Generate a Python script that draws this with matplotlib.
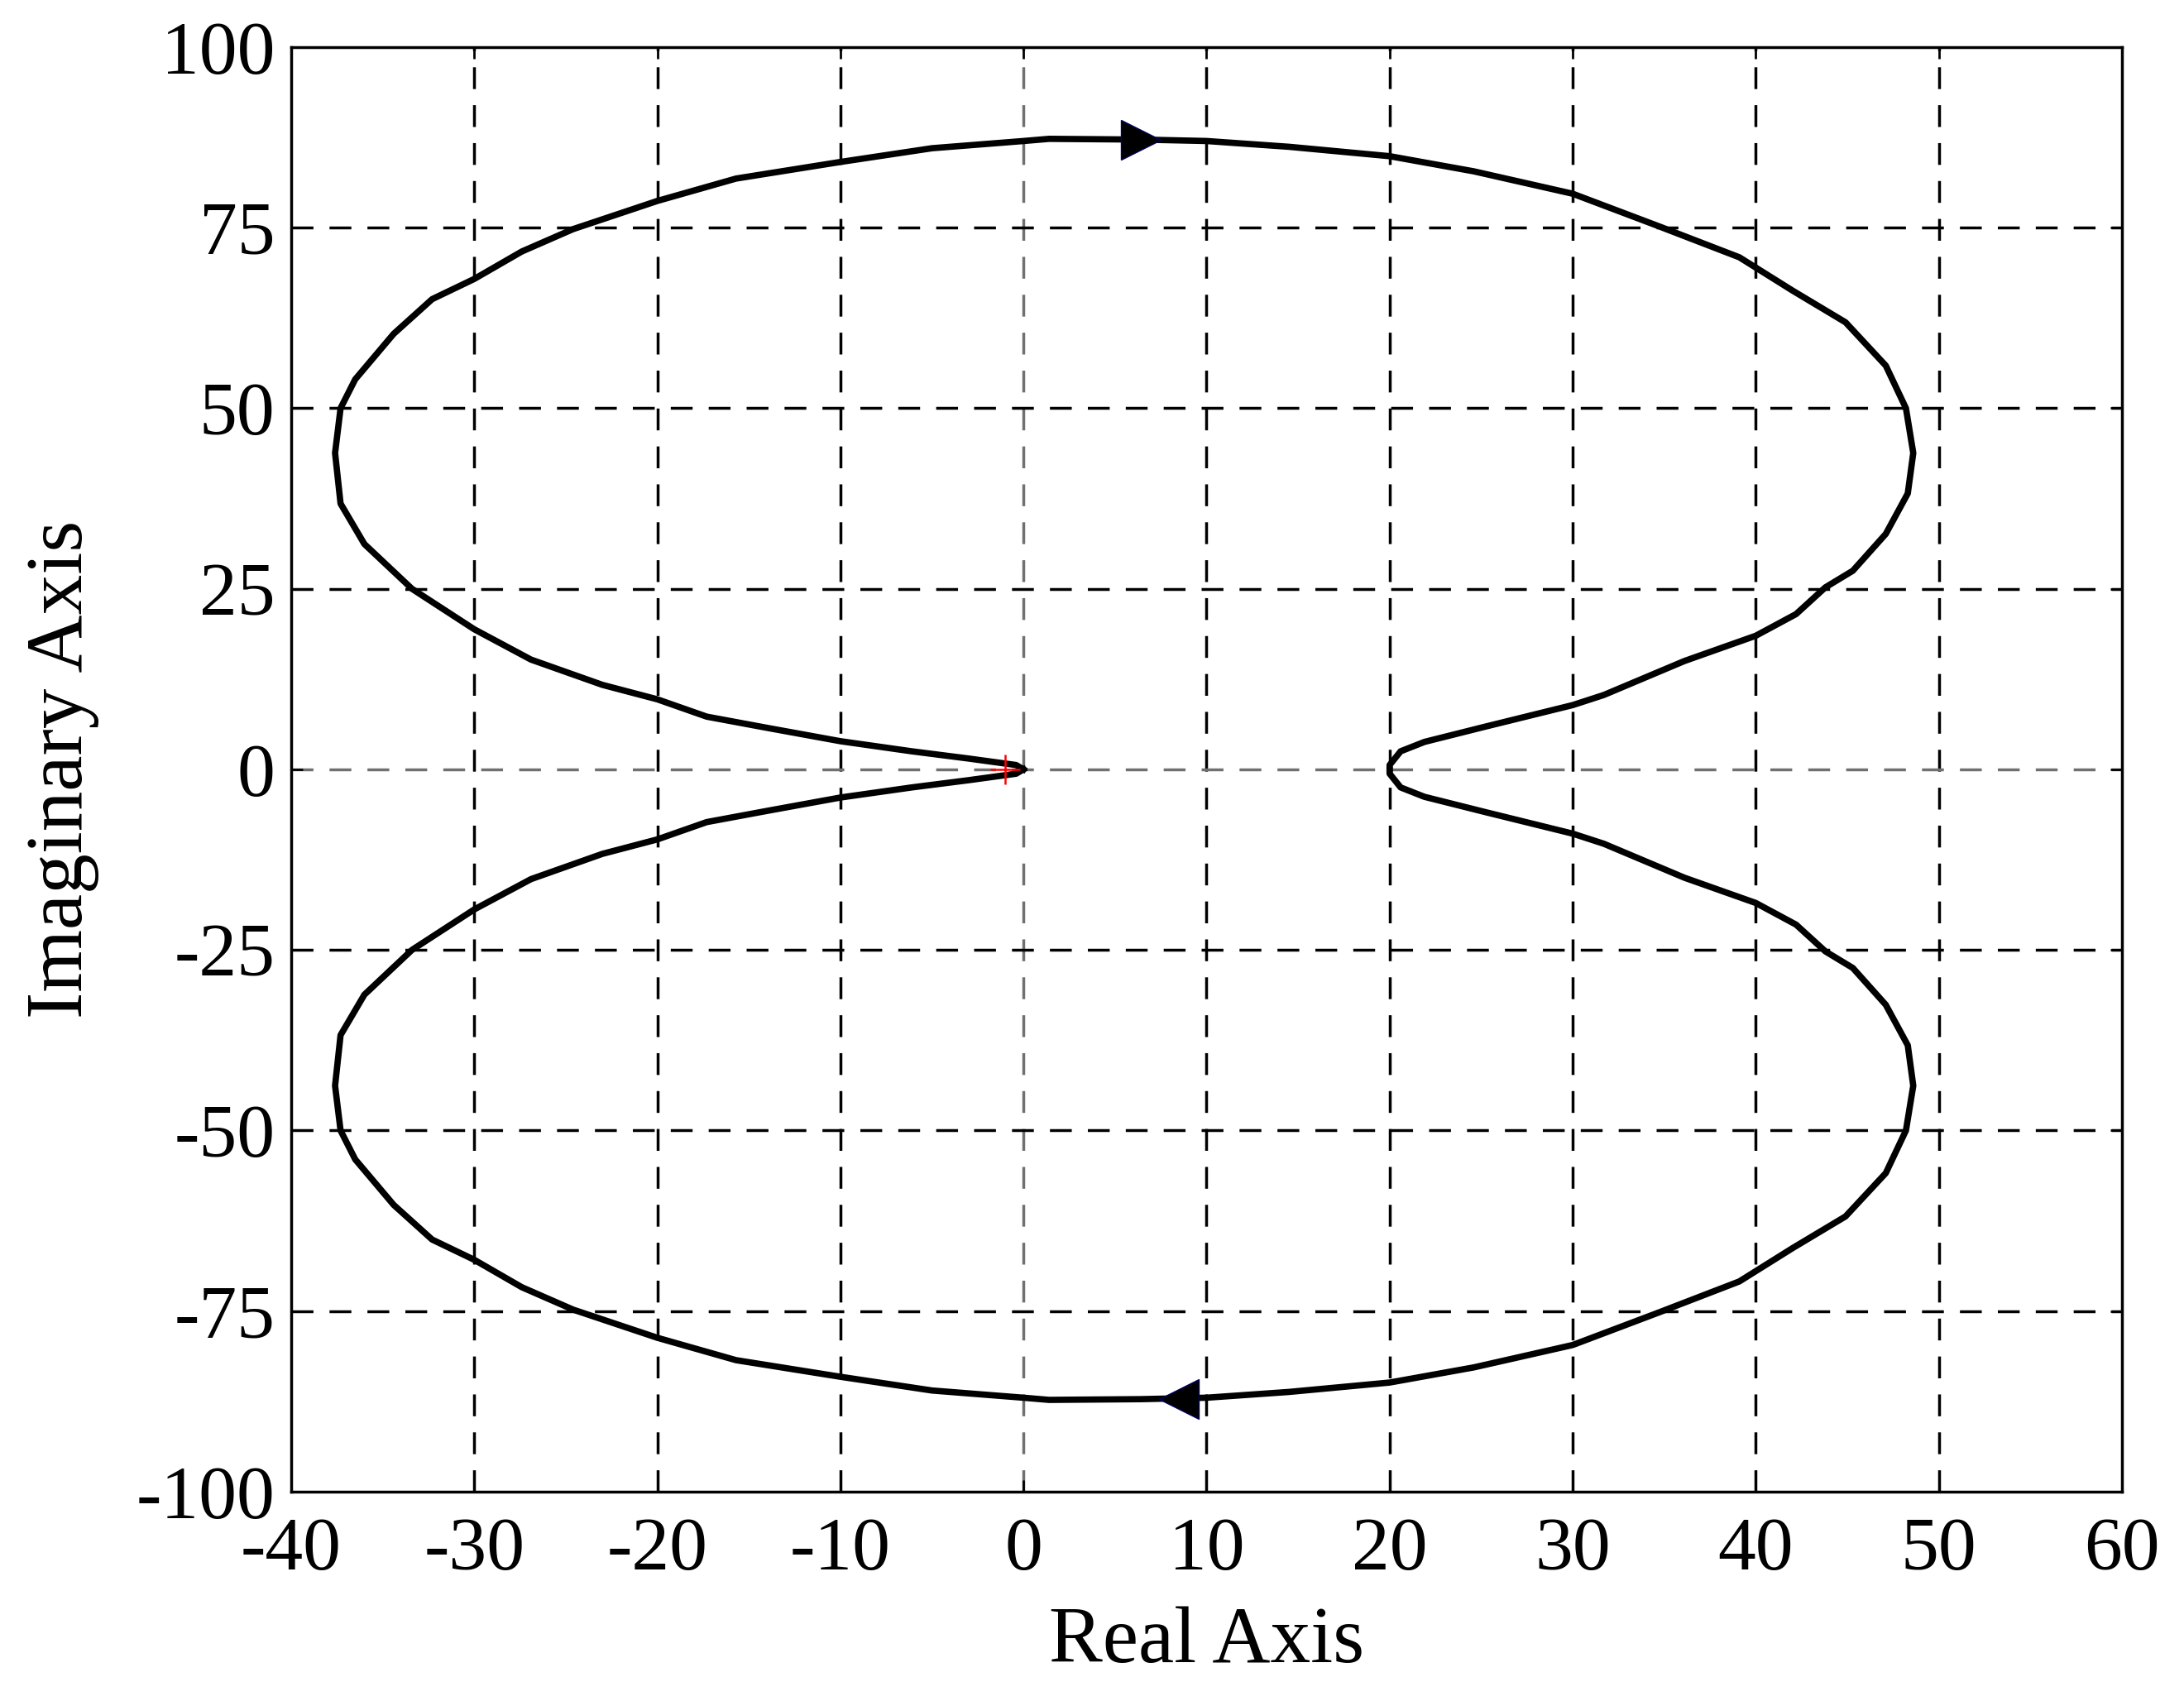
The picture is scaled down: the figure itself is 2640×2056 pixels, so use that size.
import numpy as np
import matplotlib
matplotlib.use("Agg")
import matplotlib.pyplot as plt

# Nyquist curve, upper half (positive frequencies)
re_up = [0, -0.4, -3, -6.1, -10, -13.9, -17.3, -20, -23, -26.9, -30, -33.4, -36,
         -37.3, -37.6, -37.3, -36.5, -34.4, -32.3, -30, -27.4, -24.6, -20, -15.7,
         -10, -5, 0, 1.4, 6.4, 10, 14.5, 20, 24.6, 30, 34.7, 39.1, 42, 44.9, 47.1,
         48.2, 48.6, 48.3, 47.1, 45.3, 43.8, 42.2, 40, 36.1, 31.7, 30, 25.2, 21.9,
         20.6, 20, 20]
im_up = [0, 0.6, 1.5, 2.5, 3.9, 5.7, 7.3, 9.7, 11.7, 15.2, 19.4, 25, 31.2,
         36.8, 43.8, 50, 54, 60.3, 65.1, 67.9, 71.7, 74.8, 78.7, 81.8,
         84.1, 86, 87, 87.3, 87.2, 87, 86.2, 84.9, 82.8, 79.7, 75.2, 70.9, 66.3, 61.9, 55.9,
         50, 43.8, 38.2, 32.6, 27.5, 25.2, 21.5, 18.5, 15, 10.3, 8.9, 5.9, 3.8,
         2.5, 0.6, 0]

# direction arrows (x, y) and the critical point
arrow_top = (6.4, 87.2)
arrow_bottom = (8.5, -87.2)
critical = (-1, 0)

xticks = [-40, -30, -20, -10, 0, 10, 20, 30, 40, 50, 60]
yticks = [-100, -75, -50, -25, 0, 25, 50, 75, 100]

plt.rcParams['font.family'] = ['Liberation Serif', 'DejaVu Serif']
plt.rcParams['axes.unicode_minus'] = False
plt.rcParams['lines.scale_dashes'] = False

fig = plt.figure(figsize=(26.4, 20.56), dpi=100)
ax = fig.add_axes([0.1333, 0.1231, 0.8383, 0.8492])

# grid drawn by hand so the zero lines can be grey
for t in xticks[1:-1]:
    ax.axvline(t, color='#707070' if t == 0 else 'black', lw=2.5,
               dashes=(19, 14), zorder=1)
for t in yticks[1:-1]:
    ax.axhline(t, color='#707070' if t == 0 else 'black', lw=2.5,
               dashes=(19, 14), zorder=1)

re = np.array(re_up)
im = np.array(im_up)
ax.plot(re, im, color='black', lw=5.5, zorder=3)
ax.plot(re, -im, color='black', lw=5.5, zorder=3)

ax.plot(*critical, marker='+', color='red', markersize=26, mew=1.8, zorder=6)
ax.plot(*arrow_top, marker='>', markersize=35, color='black',
        markeredgecolor='#000060', mew=1, zorder=5)
ax.plot(*arrow_bottom, marker='<', markersize=35, color='black',
        markeredgecolor='#000060', mew=1, zorder=5)

ax.set_xlim(-40, 60)
ax.set_ylim(-100, 100)
ax.set_xticks(xticks)
ax.set_yticks(yticks)
ax.tick_params(direction='in', length=10, width=2, top=True, right=True,
               labelsize=66)
ax.tick_params(axis='x', pad=22)
ax.tick_params(axis='y', pad=14)
for s in ax.spines.values():
    s.set_linewidth(2.5)

ax.set_xlabel('Real Axis', fontsize=70, va='center')
ax.xaxis.set_label_coords(0.5, -0.105)
ax.set_ylabel('Imaginary Axis', fontsize=70, va='center')
ax.yaxis.set_label_coords(-0.125, 0.5)

fig.savefig('out.png', dpi=100)
